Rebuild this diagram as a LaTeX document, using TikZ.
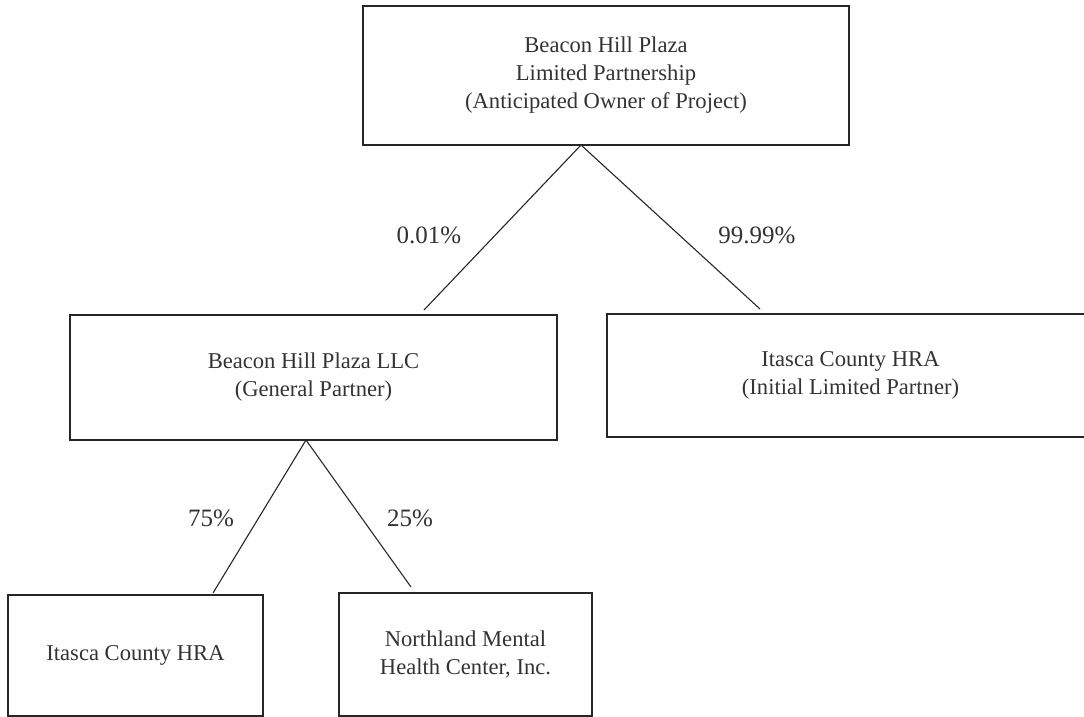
\documentclass[tikz,border=0pt]{standalone}
\usepackage{fontspec}
\setmainfont{Liberation Serif}
\begin{document}
\begin{tikzpicture}[x=1pt,y=-1pt,
  box/.style={draw=black!85, line width=1.3pt, rectangle, inner sep=0pt, align=center,
              font=\fontsize{22.6}{28}\selectfont, text=black!80},
  pct/.style={font=\fontsize{25}{30}\selectfont, text=black!80, inner sep=0pt},
  link/.style={draw=black!85, line width=1.1pt}]
\useasboundingbox (0,0) rectangle (1084,717);
\clip (0,0) rectangle (1084,717);
% boxes
\node[box, minimum width=486pt, minimum height=139pt] (owner) at (606,75.5)
  {Beacon Hill Plaza\\Limited Partnership\\(Anticipated Owner of Project)};
\node[box, minimum width=487pt, minimum height=125pt] (gp) at (313.5,377.5)
  {Beacon Hill Plaza LLC\\(General Partner)};
\node[box, minimum width=487pt, minimum height=123pt] (lp) at (850.5,375.5)
  {Itasca County HRA\\(Initial Limited Partner)};
\node[box, minimum width=255pt, minimum height=121pt] (hra) at (135.5,655.5)
  {Itasca County HRA};
\node[box, minimum width=253pt, minimum height=123pt] (nmh) at (465.5,654.5)
  {Northland Mental\\Health Center, Inc.};
% connector points
\coordinate (a1) at (581,145);
\coordinate (e1) at (424,310);
\coordinate (e2) at (760,309);
\coordinate (a2) at (306,440);
\coordinate (e3) at (213,593);
\coordinate (e4) at (411,587);
\draw[link] (a1) -- (e1);
\draw[link] (a1) -- (e2);
\draw[link] (a2) -- (e3);
\draw[link] (a2) -- (e4);
% labels
\node[pct] (p1) at (429,235) {0.01\%};
\node[pct] (p2) at (757,235) {99.99\%};
\node[pct] (p3) at (211,518) {75\%};
\node[pct] (p4) at (410,518) {25\%};
\end{tikzpicture}
\end{document}
